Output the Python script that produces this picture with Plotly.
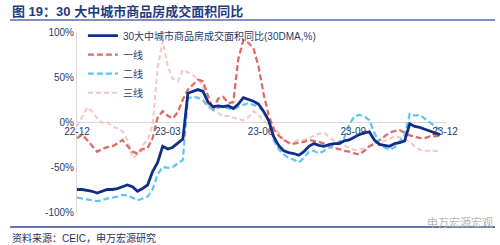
import pandas as pd
import plotly.graph_objects as go

dates = pd.date_range("2022-12-01", periods=73, freq="5D")

total = [-75, -75, -76, -77, -79, -77, -75, -75, -74, -72,
         -70, -72, -77, -74, -70, -55, -45, -27, -30, -28,
         -24, -19, 32, 34, 36, 34, 22, 17, 18, 17,
         18, 15, 20, 27, 25, 23, 20, 12, 2, -16,
         -26, -32, -34, -35, -37, -33, -27, -24, -26, -27,
         -25, -24, -24, -21, -20, -17, -14, -12, -11, -20,
         -25, -26, -27, -24, -23, -21, -2, -5, -6, -8,
         -10, -12, -14]

tier1 = [-18, -14, -20, -26, -33, -30, -28, -27, -24, -20,
         -27, -33, -35, -30, -29, -18, 5, 12, 7, 4,
         11, 25, 36, 42, 47, 45, 28, 13, 26, 28,
         21, 22, 70, 91, 88, 82, 62, 32, 8, -8,
         -15, -20, -23, -24, -23, -22, -20, -21, -22, -24,
         -27, -29, -30, -32, -33, -35, -36, -32, -27, -24,
         -20, -15, -12, -10, -9, -12, -15, -16, -18, -18,
         -16, -16, -15]

tier2 = [-84, -85, -86, -87, -88, -87, -85, -84, -83, -81,
         -82, -84, -87, -85, -83, -75, -58, -50, -51, -50,
         -46, -42, 26, 28, 27, 24, 17, 14, 16, 17,
         15, 14, 17, 19, 21, 19, 17, 12, 2, -20,
         -30, -36, -40, -42, -45, -40, -33, -32, -35, -32,
         -29, -25, -22, -18, -3, 6, 8, 6, 2, -12,
         -24, -28, -31, -28, -22, -15, 9, 7, 8, 4,
         0, -5, -9]

tier3 = [-5, 5, 16, 12, 4, -1, 0, -5, -7, -10,
         -20, -40, -36, -26, -20, -3, 60, 90, 62, 48,
         45, 58, 55, 52, 48, 40, 18, 13, 10, 6,
         7, 5, 3, 2, 5, 12, 8, 1, -2, -5,
         -12, -20, -24, -22, -20, -20, -18, -15, -13, -12,
         -17, -21, -24, -26, -29, -31, -31, -29, -27, -24,
         -22, -21, -19, -16, -17, -19, -22, -27, -31, -32,
         -32, -32, -33]

names = ["30大中城市商品房成交面积同比(30DMA,%)", "一线", "二线", "三线"]
tick_dates = ["2022-12-01", "2023-03-01", "2023-06-01", "2023-09-01", "2023-12-01"]
tick_text = ["22-12", "23-03", "23-06", "23-09", "23-12"]
y_ticks = [-100, -50, 0, 50, 100]
y_text = ["-100%", "-50%", "0%", "50%", "100%"]

FONT = "Liberation Sans, Noto Sans CJK SC, sans-serif"
NAVY = "#2A3A6C"

fig = go.Figure()
fig.add_trace(go.Scatter(x=dates, y=tier3, name=names[3], mode="lines", legendrank=4,
                         line=dict(color="#F6C6C6", width=2, dash="5px,3px")))
fig.add_trace(go.Scatter(x=dates, y=tier1, name=names[1], mode="lines", legendrank=2,
                         line=dict(color="#DE6B66", width=2.3, dash="6px,3px")))
fig.add_trace(go.Scatter(x=dates, y=tier2, name=names[2], mode="lines", legendrank=3,
                         line=dict(color="#5CC6EE", width=2.2, dash="6px,3px")))
fig.add_trace(go.Scatter(x=dates, y=total, name=names[0], mode="lines", legendrank=1,
                         line=dict(color="#102E88", width=2.8)))

fig.update_layout(
    width=500, height=245,
    margin=dict(l=77, r=53, t=32, b=33),
    paper_bgcolor="white", plot_bgcolor="white",
    font=dict(family=FONT, size=10, color=NAVY),
    showlegend=True,
    legend=dict(x=0.016, y=1.06, xanchor="left", yanchor="top",
                bgcolor="rgba(0,0,0,0)", font=dict(size=10, color=NAVY),
                tracegroupgap=0, itemwidth=30),
    xaxis=dict(range=["2022-12-01", "2023-12-03"], anchor="free", position=0.488,
               showline=False, showgrid=False, zeroline=False, ticks="",
               tickvals=tick_dates, ticktext=tick_text,
               tickfont=dict(size=10, color=NAVY)),
    yaxis=dict(range=[-100, 100], tickvals=y_ticks, ticktext=y_text,
               showgrid=False, zeroline=True, zerolinecolor="#D9D9D9", zerolinewidth=1,
               showline=True, linecolor="#D9D9D9", linewidth=1, ticks="",
               tickfont=dict(size=10, color=NAVY)),
)

fig.add_annotation(text="<b>图 19：30 大中城市商品房成交面积同比</b>", xref="paper", yref="paper",
                   x=-77/370 + 10/370, y=1 + (32 - 12)/180, xanchor="left", yanchor="middle",
                   showarrow=False, font=dict(size=13, color="#1F3C7E", family=FONT))
fig.add_shape(type="line", xref="paper", yref="paper",
              x0=(10 - 77)/370, x1=(495 - 77)/370, y0=1 + (32 - 20)/180, y1=1 + (32 - 20)/180,
              line=dict(color="#5668AE", width=1.5))
fig.add_shape(type="line", xref="paper", yref="paper",
              x0=(10 - 77)/370, x1=(495 - 77)/370, y0=-(227 - 212)/180, y1=-(227 - 212)/180,
              line=dict(color="#2B4A9A", width=1.5))
fig.add_annotation(text="资料来源：CEIC，申万宏源研究", xref="paper", yref="paper",
                   x=(10 - 77)/370, y=-(238 - 212)/180, xanchor="left", yanchor="middle",
                   showarrow=False, font=dict(size=10, color="#1F2F5F", family=FONT))
fig.add_annotation(text="申万宏源宏观", xref="paper", yref="paper",
                   x=(495 - 77)/370, y=-(222 - 212)/180, xanchor="right", yanchor="middle",
                   showarrow=False, font=dict(size=11, color="#B4B4B4", family=FONT))

fig.write_html("out.html")
